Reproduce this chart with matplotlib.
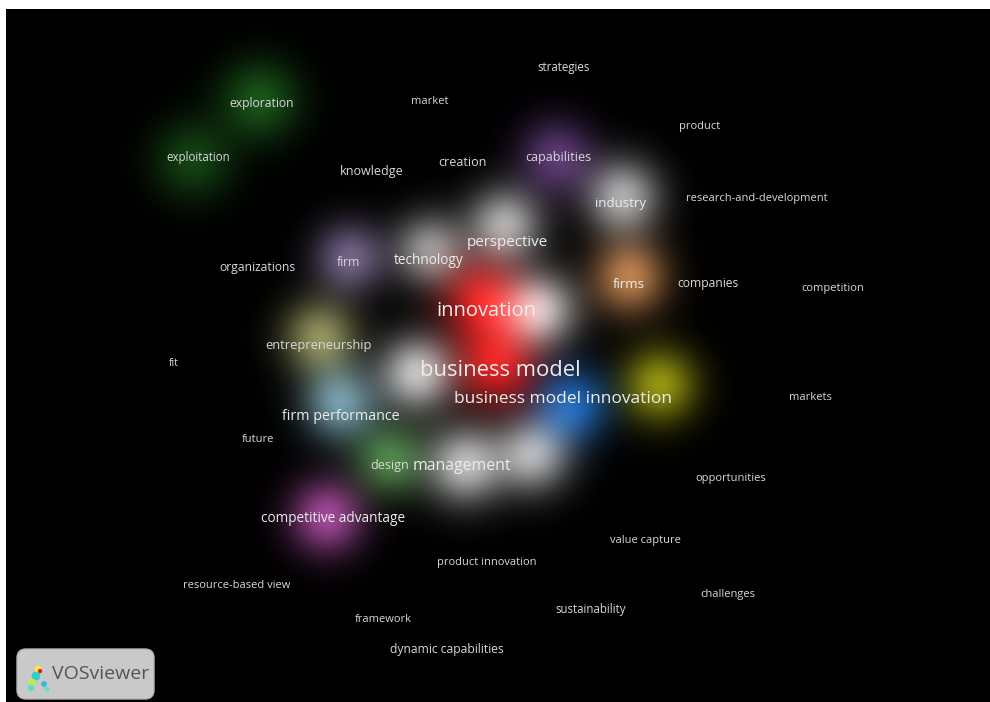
import matplotlib
matplotlib.use("Agg")
import matplotlib.pyplot as plt
from matplotlib.patches import FancyBboxPatch
import numpy as np

# map items: label, x, y (map coordinates), font size (pt)
labels = ["business model", "innovation", "business model innovation", "perspective",
          "management", "firm performance", "competitive advantage", "technology",
          "industry", "firms", "entrepreneurship", "firm", "design", "capabilities",
          "knowledge", "creation", "exploration", "exploitation", "organizations",
          "companies", "dynamic capabilities", "market", "strategies", "product",
          "research-and-development", "competition", "fit", "markets", "future",
          "opportunities", "value capture", "product innovation", "resource-based view",
          "challenges", "sustainability", "framework"]
xs = [500, 486, 563, 507, 462, 341, 333, 429, 621, 629, 318, 348, 390, 558,
      372, 462, 262, 198, 257, 708, 447, 430, 564, 700, 757, 833, 174, 810, 258,
      731, 645, 487, 237, 728, 591, 383]
ys = [370, 311, 399, 243, 466, 416, 518, 261, 203, 285, 345, 262, 465, 158,
      171, 162, 104, 157, 267, 284, 650, 101, 68, 126, 198, 288, 363, 398, 440,
      479, 541, 563, 586, 595, 609, 620]
sizes = [15.8, 14.5, 12.5, 10.9, 11.4, 10.3, 9.8, 9.8, 9.5, 9.5, 9.3, 8.7, 9.0, 9.0,
         9.0, 9.0, 8.7, 8.3, 8.7, 8.7, 8.7, 8.0, 8.3, 8.0, 8.0, 8.0, 7.6, 8.0, 8.0,
         8.0, 8.0, 8.0, 8.0, 8.0, 8.3, 8.0]

# density peaks: x, y, cluster, weight, spread
blob_x = [497, 483, 572, 505, 465, 340, 327, 430, 623, 630, 320, 350, 390, 557,
          260, 193, 540, 660, 417, 533]
blob_y = [365, 300, 405, 225, 465, 403, 517, 250, 197, 277, 337, 258, 460, 157,
          100, 160, 310, 385, 373, 455]
blob_cluster = ["red", "red", "blue", "white", "white", "lightblue", "pink", "white",
                "white", "orange", "khaki", "lavender", "green", "purple",
                "darkgreen", "darkgreen", "white", "olive", "white", "white"]
blob_weight = [0.95, 0.95, 0.9, 0.8, 0.85, 0.8, 0.8, 0.7, 0.8, 0.85, 0.75, 0.7,
               0.75, 0.7, 0.7, 0.55, 0.9, 0.85, 0.9, 0.8]
blob_sigma = [28, 28, 26, 26, 27, 26, 26, 25, 26, 26, 26, 25, 25, 26,
              28, 28, 26, 26, 26, 26]

cluster_colors = {
    "red": (225, 30, 30), "blue": (30, 110, 200), "white": (215, 215, 215),
    "lightblue": (140, 190, 210), "pink": (200, 90, 190), "orange": (220, 150, 90),
    "khaki": (190, 190, 120), "lavender": (160, 140, 190), "green": (100, 170, 90),
    "purple": (130, 80, 165), "darkgreen": (35, 120, 35), "olive": (175, 175, 20),
}

W, H = 990, 702
fig = plt.figure(figsize=(W / 100, H / 100), dpi=100, facecolor="white")
ax = fig.add_axes([0, 0, 1, 1])
ax.set_xlim(0, W)
ax.set_ylim(H, 0)
ax.axis("off")

# density layer
gx, gy = np.meshgrid(np.arange(6, W) + 0.5, np.arange(9, H) + 0.5)
img = np.zeros(gx.shape + (3,))
for bx, by, c, w, sg in zip(blob_x, blob_y, blob_cluster, blob_weight, blob_sigma):
    g = w * np.exp(-((gx - bx) ** 2 + (gy - by) ** 2) / (2 * sg ** 2))
    img += g[..., None] * np.array(cluster_colors[c]) / 255.0
img = np.clip(img, 0, 1)
ax.imshow(img, extent=(6, W, H, 9), interpolation="bilinear", zorder=1)

for lab, x, y, s in zip(labels, xs, ys, sizes):
    col = "#ececec" if s >= 9.5 else "#d8d8d8"
    ax.text(x, y, lab, fontsize=s, color=col, ha="center", va="center",
            family="Open Sans", zorder=3)

# VOSviewer logo box
box = FancyBboxPatch((17, 649), 137, 50, boxstyle="round,pad=0,rounding_size=9",
                     facecolor="#c9c9c9", edgecolor="#b4b4b4", lw=1, zorder=4)
ax.add_patch(box)
ax.scatter([36, 38, 40, 32, 31, 44, 47], [676, 669, 671, 682, 688, 684, 689],
           s=[40, 22, 10, 25, 20, 18, 14],
           c=["#33cccc", "#ffee33", "#dd2222", "#bbee55", "#55ddcc", "#33bbdd", "#66ddcc"],
           zorder=5, lw=0)
ax.text(52, 674, "VOSviewer", fontsize=14, color="#555555", va="center",
        family="Open Sans", zorder=5)

fig.savefig("out.png", dpi=100, facecolor="white")
